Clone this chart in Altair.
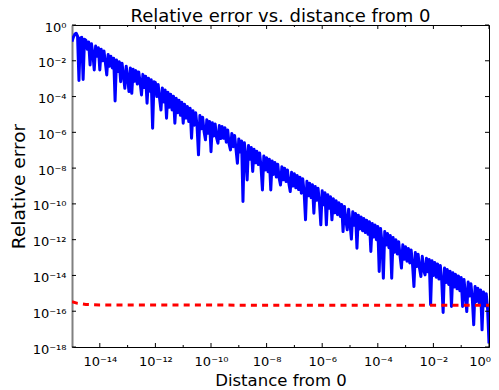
import altair as alt
import pandas as pd

# ---- data (log10 of the values) ----
dist_exp = [
    -15.00, -14.95, -14.90, -14.85, -14.80, -14.75, -14.70, -14.65, -14.60, -14.55,
    -14.50, -14.45, -14.40, -14.35, -14.30, -14.25, -14.20, -14.15, -14.10, -14.05,
    -14.00, -13.95, -13.90, -13.85, -13.80, -13.75, -13.70, -13.65, -13.60, -13.55,
    -13.50, -13.45, -13.40, -13.35, -13.30, -13.25, -13.20, -13.15, -13.10, -13.05,
    -13.00, -12.95, -12.90, -12.85, -12.80, -12.75, -12.70, -12.65, -12.60, -12.55,
    -12.50, -12.45, -12.40, -12.35, -12.30, -12.25, -12.20, -12.15, -12.10, -12.05,
    -12.00, -11.95, -11.90, -11.85, -11.80, -11.75, -11.70, -11.65, -11.60, -11.55,
    -11.50, -11.45, -11.40, -11.35, -11.30, -11.25, -11.20, -11.15, -11.10, -11.05,
    -11.00, -10.95, -10.90, -10.85, -10.80, -10.75, -10.70, -10.65, -10.60, -10.55,
    -10.50, -10.45, -10.40, -10.35, -10.30, -10.25, -10.20, -10.15, -10.10, -10.05,
    -10.00, -9.95, -9.90, -9.85, -9.80, -9.75, -9.70, -9.65, -9.60, -9.55,
    -9.50, -9.45, -9.40, -9.35, -9.30, -9.25, -9.20, -9.15, -9.10, -9.05,
    -9.00, -8.95, -8.90, -8.85, -8.80, -8.75, -8.70, -8.65, -8.60, -8.55,
    -8.50, -8.45, -8.40, -8.35, -8.30, -8.25, -8.20, -8.15, -8.10, -8.05,
    -8.00, -7.95, -7.90, -7.85, -7.80, -7.75, -7.70, -7.65, -7.60, -7.55,
    -7.50, -7.45, -7.40, -7.35, -7.30, -7.25, -7.20, -7.15, -7.10, -7.05,
    -7.00, -6.95, -6.90, -6.85, -6.80, -6.75, -6.70, -6.65, -6.60, -6.55,
    -6.50, -6.45, -6.40, -6.35, -6.30, -6.25, -6.20, -6.15, -6.10, -6.05,
    -6.00, -5.95, -5.90, -5.85, -5.80, -5.75, -5.70, -5.65, -5.60, -5.55,
    -5.50, -5.45, -5.40, -5.35, -5.30, -5.25, -5.20, -5.15, -5.10, -5.05,
    -5.00, -4.95, -4.90, -4.85, -4.80, -4.75, -4.70, -4.65, -4.60, -4.55,
    -4.50, -4.45, -4.40, -4.35, -4.30, -4.25, -4.20, -4.15, -4.10, -4.05,
    -4.00, -3.95, -3.90, -3.85, -3.80, -3.75, -3.70, -3.65, -3.60, -3.55,
    -3.50, -3.45, -3.40, -3.35, -3.30, -3.25, -3.20, -3.15, -3.10, -3.05,
    -3.00, -2.95, -2.90, -2.85, -2.80, -2.75, -2.70, -2.65, -2.60, -2.55,
    -2.50, -2.45, -2.40, -2.35, -2.30, -2.25, -2.20, -2.15, -2.10, -2.05,
    -2.00, -1.95, -1.90, -1.85, -1.80, -1.75, -1.70, -1.65, -1.60, -1.55,
    -1.50, -1.45, -1.40, -1.35, -1.30, -1.25, -1.20, -1.15, -1.10, -1.05,
    -1.00, -0.95, -0.90, -0.85, -0.80, -0.75, -0.70, -0.65, -0.60, -0.55,
    -0.50, -0.45, -0.40, -0.35, -0.30, -0.25, -0.20, -0.15, -0.10, -0.05,
    0.00,
]

err_exp = [
    -0.93, -0.68, -0.52, -0.46, -0.62, -3.10, -0.72, -0.69, -3.05, -0.80,
    -0.85, -1.35, -0.95, -2.23, -1.05, -1.60, -2.51, -1.18, -1.75, -1.27,
    -2.51, -1.36, -2.00, -1.45, -2.10, -2.79, -1.65, -2.30, -1.75, -2.40,
    -1.86, -4.25, -1.95, -2.60, -2.05, -3.17, -2.14, -2.80, -3.54, -2.30,
    -2.95, -3.72, -2.40, -3.82, -2.48, -3.15, -2.55, -3.30, -2.63, -3.20,
    -3.91, -2.76, -3.50, -2.86, -4.37, -2.97, -3.70, -3.06, -5.77, -3.17,
    -3.22, -4.00, -3.33, -4.10, -4.75, -3.52, -4.30, -3.63, -5.21, -3.76,
    -4.60, -3.87, -4.75, -3.98, -5.49, -4.10, -4.90, -4.20, -5.05, -4.32,
    -5.49, -4.43, -5.20, -4.55, -5.40, -4.66, -6.33, -4.79, -5.60, -4.91,
    -5.70, -7.26, -5.06, -5.80, -5.16, -5.95, -6.42, -5.29, -6.05, -5.39,
    -7.08, -5.47, -6.20, -5.53, -6.30, -6.61, -5.62, -6.35, -5.68, -6.33,
    -5.74, -6.55, -5.87, -6.65, -6.98, -6.06, -6.80, -6.18, -6.95, -7.73,
    -6.37, -7.10, -6.48, -9.87, -6.58, -7.30, -8.66, -6.74, -7.50, -6.85,
    -8.19, -6.95, -7.70, -7.06, -7.80, -7.16, -7.95, -9.22, -7.32, -8.10,
    -7.42, -8.20, -7.51, -9.22, -7.60, -8.35, -7.69, -8.50, -7.78, -8.55,
    -8.94, -7.92, -8.65, -8.01, -8.75, -8.10, -8.85, -9.31, -8.23, -9.00,
    -8.32, -9.10, -8.41, -9.20, -8.51, -9.40, -8.60, -9.35, -10.89, -8.74,
    -9.55, -8.84, -9.65, -8.93, -10.52, -9.03, -9.80, -9.13, -9.90, -11.17,
    -9.27, -10.05, -9.38, -11.17, -9.49, -10.25, -9.60, -10.89, -9.71, -10.50,
    -9.82, -10.60, -9.93, -10.70, -10.03, -11.55, -10.14, -10.90, -11.45, -10.30,
    -11.10, -11.97, -10.44, -11.20, -10.54, -12.48, -10.63, -11.40, -10.73, -11.50,
    -10.82, -11.60, -10.91, -11.70, -11.00, -12.66, -11.09, -11.85, -11.18, -12.00,
    -11.27, -13.78, -11.38, -12.15, -14.15, -11.55, -12.30, -11.66, -12.45, -11.77,
    -14.15, -11.88, -12.70, -12.00, -12.80, -12.11, -12.90, -13.59, -12.29, -13.10,
    -12.40, -13.20, -12.49, -13.30, -12.58, -13.40, -14.62, -12.72, -13.50, -12.81,
    -13.60, -14.06, -12.93, -13.70, -13.97, -13.04, -13.80, -13.11, -15.64, -13.18,
    -14.00, -13.27, -14.10, -13.36, -14.20, -13.45, -14.30, -16.07, -13.58, -14.40,
    -13.67, -14.50, -13.76, -15.73, -13.85, -14.65, -13.94, -14.75, -14.03, -14.85,
    -14.12, -15.73, -14.22, -15.00, -16.02, -14.37, -15.15, -14.47, -15.30, -16.76,
    -14.62, -15.45, -14.72, -15.55, -14.82, -17.04, -14.92, -15.70, -15.02, -15.90,
    -17.80,
]

floor_dist_exp = [-15.0, -14.8, -14.5, -14.0, -12.0, -9.0, -6.0, -3.0, 0.0]
floor_err_exp = [-15.47, -15.56, -15.62, -15.65, -15.65, -15.66, -15.66, -15.66, -15.66]

x_major_exp = [-14, -12, -10, -8, -6, -4, -2, 0]
x_minor_exp = [-13, -11, -9, -7, -5, -3, -1]
y_major_exp = [-18, -16, -14, -12, -10, -8, -6, -4, -2, 0]

# ---- build tables ----
df_err = pd.DataFrame({"dist": [10.0 ** e for e in dist_exp],
                       "err": [10.0 ** e for e in err_exp]})
df_floor = pd.DataFrame({"dist": [10.0 ** e for e in floor_dist_exp],
                         "err": [10.0 ** e for e in floor_err_exp]})
df_xmaj = pd.DataFrame({"dist": [10.0 ** e for e in x_major_exp]})
df_xmin = pd.DataFrame({"dist": [10.0 ** e for e in x_minor_exp]})
df_ymaj = pd.DataFrame({"err": [10.0 ** e for e in y_major_exp]})

SUP = str.maketrans("-0123456789", "⁻⁰¹²³⁴⁵⁶⁷⁸⁹")


def label_expr(exps):
    parts = []
    for e in exps:
        parts.append(
            f"abs(log(datum.value)/LN10 - ({e})) < 0.01 ? '10{str(e).translate(SUP)}' : "
        )
    return "".join(parts) + "''"


FONT = "DejaVu Sans"
W, H = 417, 322

xscale = alt.Scale(type="log", domain=[1e-15, 1.0], nice=False)
yscale = alt.Scale(type="log", domain=[1e-18, 1.0], nice=False)

x_axis = alt.Axis(
    values=[10.0 ** e for e in x_major_exp],
    labelExpr=label_expr(x_major_exp),
    title="Distance from 0",
    ticks=False, grid=False,
    domainColor="black", domainWidth=1,
    labelFont=FONT, labelFontSize=13, labelColor="black",
    labelPadding=8.5, labelFlush=1, labelFlushOffset=1.5, labelOverlap=False,
    titleFont=FONT, titleFontSize=16.5, titleFontWeight="normal", titleColor="black",
    titleY=38.7, titleBaseline="alphabetic",
)
y_axis = alt.Axis(
    values=[10.0 ** e for e in y_major_exp],
    labelExpr=label_expr(y_major_exp),
    title="Relative error",
    ticks=False, grid=False,
    domainColor="#808080", domainWidth=2,
    labelFont=FONT, labelFontSize=13, labelColor="black",
    labelPadding=6, labelOffset=2, labelFlush=False, labelOverlap=False,
    titleFont=FONT, titleFontSize=18.5, titleFontWeight="normal", titleColor="black",
    titlePadding=4,
)

X = alt.X("dist:Q", scale=xscale, axis=x_axis)
Y = alt.Y("err:Q", scale=yscale, axis=y_axis)

blue = alt.Chart(df_err).mark_line(
    color="#0000ff", strokeWidth=3, strokeJoin="round", clip=True
).encode(x=X, y=Y)

red = alt.Chart(df_floor).mark_line(
    color="#ff0000", strokeWidth=3, strokeDash=[6, 5.2], strokeCap="butt", clip=True
).encode(x=X, y=Y)

tick_style = dict(color="black", strokeWidth=1)
bottom_major = alt.Chart(df_xmaj).mark_rule(**tick_style).encode(
    x=X, y=alt.value(H), y2=alt.value(H - 4))
top_major = alt.Chart(df_xmaj).mark_rule(**tick_style).encode(
    x=X, y=alt.value(0), y2=alt.value(4))
bottom_minor = alt.Chart(df_xmin).mark_rule(**tick_style).encode(
    x=X, y=alt.value(H), y2=alt.value(H - 2))
top_minor = alt.Chart(df_xmin).mark_rule(**tick_style).encode(
    x=X, y=alt.value(0), y2=alt.value(2))
left_major = alt.Chart(df_ymaj).mark_rule(**tick_style).encode(
    y=Y, x=alt.value(0), x2=alt.value(4))
right_major = alt.Chart(df_ymaj).mark_rule(**tick_style).encode(
    y=Y, x=alt.value(W), x2=alt.value(W - 4))

chart = alt.layer(
    blue, red, bottom_major, top_major, bottom_minor, top_minor, left_major, right_major
).properties(
    width=W, height=H,
    title=alt.TitleParams(
        "Relative error vs. distance from 0",
        font=FONT, fontSize=18, fontWeight="normal", color="black",
        anchor="middle", frame="group", offset=-4.5,
    ),
    autosize=alt.AutoSizeParams(type="none"),
    padding={"left": 64, "top": 17, "right": 2, "bottom": 43},
).configure(
    background="white",
    view=alt.ViewConfig(stroke="black", strokeWidth=1),
)

chart.save("out.html", embed_options={"renderer": "svg", "actions": False})
